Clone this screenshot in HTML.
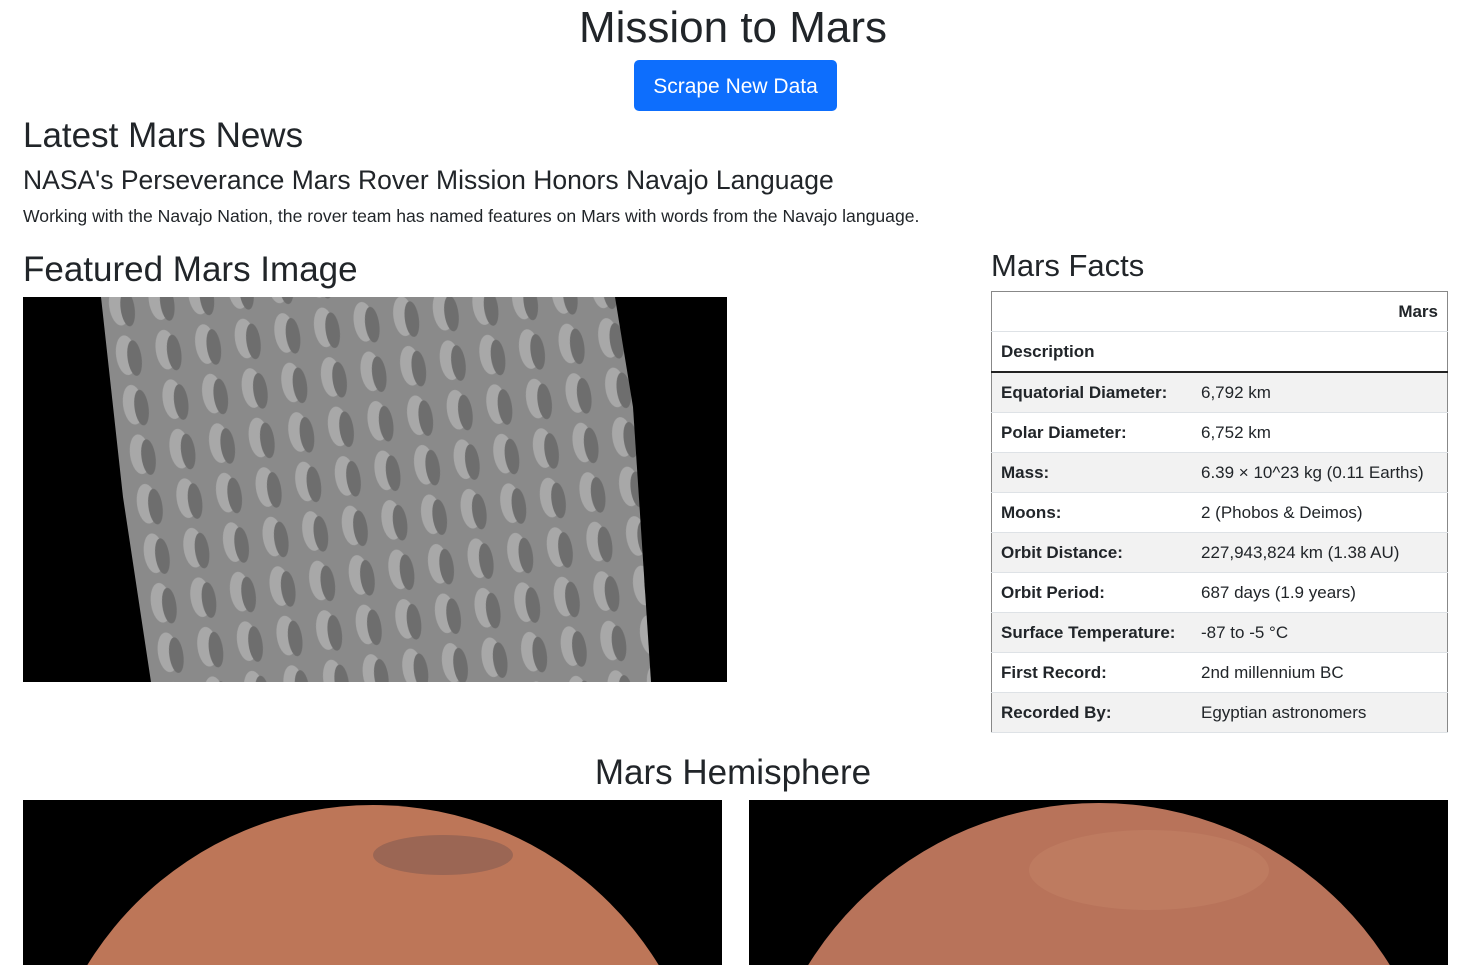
<!DOCTYPE html>
<html style="overflow:hidden"><head><meta charset="utf-8"><style>
body{margin:0;width:1466px;height:965px;overflow:hidden;background:#fff;font-family:"Liberation Sans",sans-serif;color:#212529;position:relative}
.a{position:absolute;margin:0;font-weight:500;white-space:nowrap}
table{border-collapse:collapse;position:absolute;left:991px;top:291px;width:457px;font-size:17px;border:1px solid #888}
td,th{height:39px;padding:0 9px;border-bottom:1px solid #dee2e6;text-align:left}
tr.s td{background:#f2f2f2}
td:first-child{font-weight:bold;width:182px}
</style></head><body>
<h1 class="a" style="left:0;width:1466px;text-align:center;top:3px;font-size:44px">Mission to Mars</h1>
<div class="a" style="left:634px;top:60px;width:203px;height:51px;background:#0d6efd;color:#fff;border-radius:5px;font-size:21px;line-height:53px;text-align:center;font-weight:normal">Scrape New Data</div>
<h2 class="a" style="left:23px;top:116px;font-size:35px">Latest Mars News</h2>
<h3 class="a" style="left:23px;top:165px;font-size:26.5px">NASA's Perseverance Mars Rover Mission Honors Navajo Language</h3>
<p class="a" style="left:23px;top:206px;font-size:17.6px;font-weight:normal">Working with the Navajo Nation, the rover team has named features on Mars with words from the Navajo language.</p>
<h2 class="a" style="left:23px;top:250px;font-size:35px">Featured Mars Image</h2>
<svg class="a" style="left:23px;top:297px" width="704" height="385">
<defs><pattern id="d" width="40" height="50" patternUnits="userSpaceOnUse" patternTransform="rotate(-8)"><rect width="40" height="50" fill="#8a8a8a"/><ellipse cx="14" cy="22" rx="10" ry="20" fill="#a8a8a8"/><ellipse cx="22" cy="26" rx="7" ry="18" fill="#6e6e6e"/></pattern></defs>
<rect width="704" height="385" fill="#000"/>
<polygon points="78,0 592,0 610,110 628,385 128,385 100,200" fill="url(#d)"/>
</svg>
<h2 class="a" style="left:991px;top:248px;font-size:31px">Mars Facts</h2>
<table>
<tr><td style="font-weight:normal"></td><th style="text-align:right">Mars</th></tr>
<tr style="border-bottom:2px solid #222"><td>Description</td><td></td></tr>
<tr class="s"><td>Equatorial Diameter:</td><td>6,792 km</td></tr>
<tr><td>Polar Diameter:</td><td>6,752 km</td></tr>
<tr class="s"><td>Mass:</td><td>6.39 × 10^23 kg (0.11 Earths)</td></tr>
<tr><td>Moons:</td><td>2 (Phobos &amp; Deimos)</td></tr>
<tr class="s"><td>Orbit Distance:</td><td>227,943,824 km (1.38 AU)</td></tr>
<tr><td>Orbit Period:</td><td>687 days (1.9 years)</td></tr>
<tr class="s"><td>Surface Temperature:</td><td>-87 to -5 °C</td></tr>
<tr><td>First Record:</td><td>2nd millennium BC</td></tr>
<tr class="s"><td>Recorded By:</td><td>Egyptian astronomers</td></tr>
</table>
<h2 class="a" style="left:0;width:1466px;text-align:center;top:753px;font-size:35px">Mars Hemisphere</h2>
<svg class="a" style="left:23px;top:800px" width="699" height="165"><rect width="699" height="165" fill="#000"/><circle cx="350" cy="340" r="335" fill="#bd7658"/><ellipse cx="420" cy="55" rx="70" ry="20" fill="#7a5550" opacity=".5"/></svg>
<svg class="a" style="left:749px;top:800px" width="699" height="165"><rect width="699" height="165" fill="#000"/><circle cx="350" cy="345" r="342" fill="#b8735a"/><ellipse cx="400" cy="70" rx="120" ry="40" fill="#c98a6c" opacity=".35"/></svg>
</body></html>
